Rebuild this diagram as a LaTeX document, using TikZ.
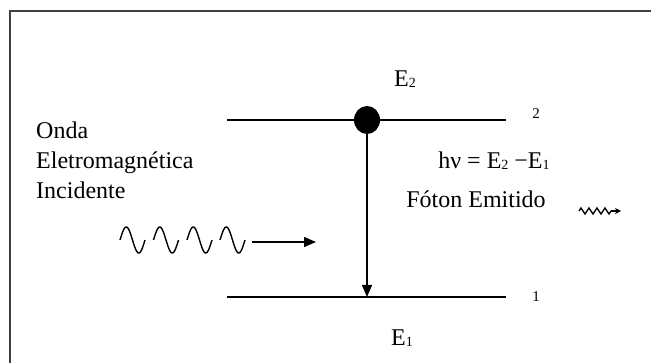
\documentclass[tikz,border=0pt]{standalone}
\usepackage{fontspec}
\setmainfont{Liberation Serif}
\usetikzlibrary{arrows.meta,decorations.pathmorphing,shapes.geometric}
\newcommand\sbs[1]{\raisebox{-1pt}{\fontsize{14}{14}\selectfont #1}}
\tikzset{
  frameline/.style={line width=2pt, draw=black!75},
  level/.style={line width=1.8pt},
  label/.style={font=\fontsize{24}{28}\selectfont, inner sep=0pt},
  small/.style={font=\fontsize{15}{15}\selectfont, inner sep=0pt},
  wave/.style={line width=1.4pt},
  arr/.style={line width=1.5pt, -{Triangle[length=12pt,width=10pt]}},
}
\begin{document}
\begin{tikzpicture}[x=1pt,y=-1pt]
\useasboundingbox (0,0) rectangle (651,363);
\fill[white] (0,0) rectangle (651,363);
% frame
\coordinate (fr) at (651,11);
\coordinate (fc) at (10,11);
\coordinate (fb) at (10,363);
\draw[frameline] (fr) -- (fc) -- (fb);
% energy levels
\coordinate (u1) at (227,120);
\coordinate (u2) at (506,120);
\coordinate (l1) at (227,297);
\coordinate (l2) at (506,297);
\draw[level] (u1) -- (u2);
\draw[level] (l1) -- (l2);
% electron
\node[ellipse, fill=black, minimum width=26pt, minimum height=28pt, inner sep=0pt] (dot) at (367,120) {};
\coordinate (hit) at (367,297);
\draw[arr] (dot.south) -- (hit);
% labels
\node[label] (E2) at (405,79) {E\sbs{2}};
\node[label] (E1) at (402,338) {E\sbs{1}};
\node[small] (n2) at (536,114) {2};
\node[small] (n1) at (536,297) {1};
\node[label] (hv) at (494,161) {hν = E\sbs{2} −E\sbs{1}};
\node[label] (foton) at (476,199) {Fóton Emitido};
\node[label, anchor=west, align=left, font=\fontsize{24}{30}\selectfont] (onda) at (36,160) {Onda\\Eletromagnética\\Incidente};
% incident wave
\foreach \s in {120,153.5,187,220}
  \draw[wave] plot[domain=0:25, samples=40, smooth] ({\s+\x},{240-13*sin(\x/25*360)});
\coordinate (wa) at (252,242);
\coordinate (wb) at (316,242);
\draw[arr] (wa) -- (wb);
% emitted photon
\coordinate (pa) at (579,211);
\coordinate (pm) at (611,211);
\coordinate (pb) at (621,211);
\draw[line width=1.3pt, decorate, decoration={zigzag, amplitude=3pt, segment length=8pt}] (pa) -- (pm);
\draw[line width=1.3pt, -{Stealth[length=6pt,width=6pt]}] (pm) -- (pb);
\end{tikzpicture}
\end{document}
